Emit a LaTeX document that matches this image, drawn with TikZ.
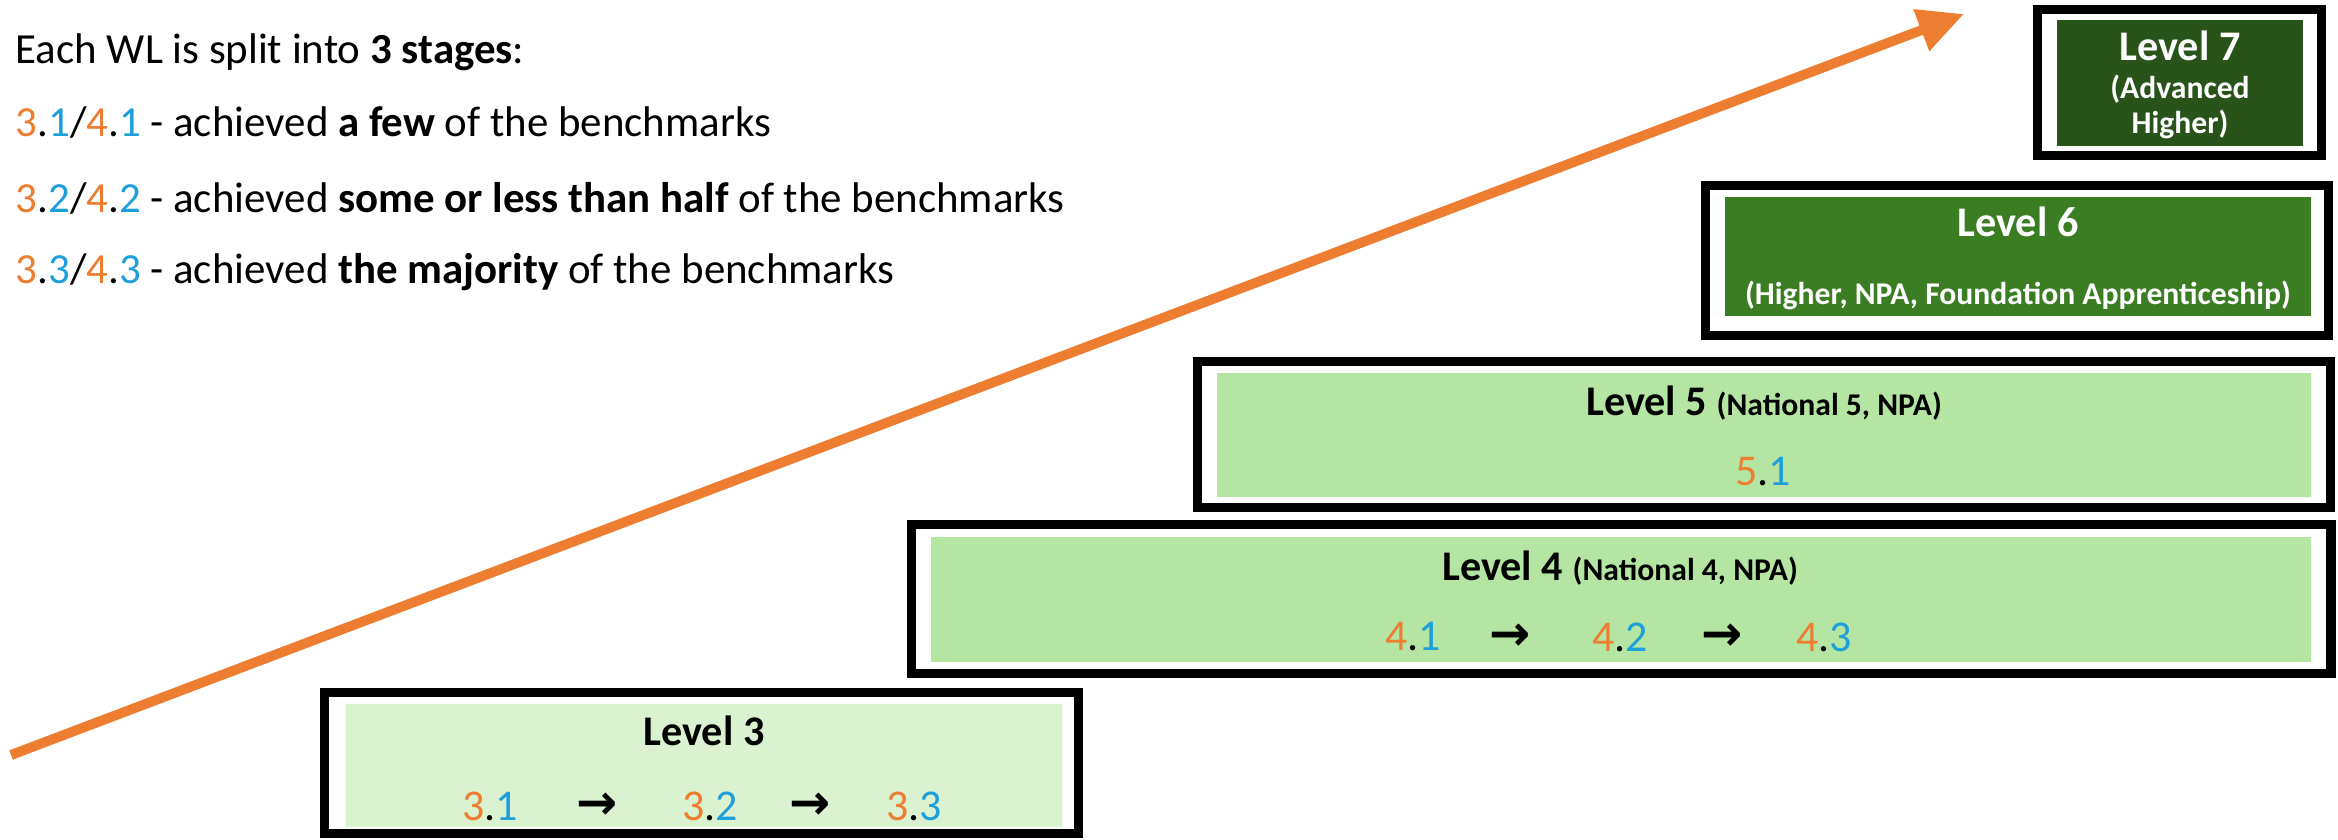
\documentclass[tikz,border=0pt]{standalone}
\usepackage{fontspec}
\setmainfont{Carlito}
\newfontfamily\arrowfont{DejaVu Sans}
\usepackage{tikz}
\usetikzlibrary{arrows.meta}

\definecolor{orng}{HTML}{ED7D31}
\definecolor{blu}{HTML}{1E9FDC}
\definecolor{palegreen}{HTML}{DAF2D0}
\definecolor{midgreen}{HTML}{B4E5A2}
\definecolor{darkgreen}{HTML}{3A7D22}
\definecolor{deepgreen}{HTML}{28541A}

\newcommand{\wlstage}[2]{\textcolor{orng}{#1}.\textcolor{blu}{#2}}
\newcommand{\nextstage}{{\arrowfont\bfseries\fontsize{14}{16}\selectfont →}}
\newcommand{\quals}[1]{{\fontsize{9}{11}\selectfont #1}}

\begin{document}
\begin{tikzpicture}[x=0.01cm, y=-0.01cm, every node/.style={inner sep=0pt},
    rise/.style={draw=orng, line width=2.8pt, -{Triangle[length=13pt,width=12pt]}}]
    \tikzstyle{frame}=[draw, line width=2.6pt, rectangle]
    \tikzstyle{panel}=[rectangle]
    \tikzstyle{head}=[font=\fontsize{12}{14}\selectfont\bfseries]
    \tikzstyle{sub}=[font=\fontsize{9}{10}\selectfont\bfseries, align=center]
    \tikzstyle{stage}=[font=\fontsize{12.5}{14}\selectfont]
    \tikzstyle{legend}=[anchor=west, font=\fontsize{12.2}{14}\selectfont]

    \useasboundingbox (0,0) rectangle (2338,840);

    % legend
    \node[legend] (intro) at (15,52) {Each WL is split into \textbf{3 stages}:};
    \node[legend] (few) at (15,123) {\wlstage{3}{1}/\wlstage{4}{1} - achieved \textbf{a few} of the benchmarks};
    \node[legend] (some) at (15,198) {\wlstage{3}{2}/\wlstage{4}{2} - achieved \textbf{some or less than half} of the benchmarks};
    \node[legend] (most) at (15,272) {\wlstage{3}{3}/\wlstage{4}{3} - achieved \textbf{the majority} of the benchmarks};

    % rising arrow
    \coordinate (risestart) at (11,755);
    \coordinate (risetip) at (1964,14);
    \draw[rise] (risestart) -- (risetip);

    % level 3
    \node[panel, fill=palegreen, minimum width=7.16cm, minimum height=1.23cm] (fill3) at (704,765.5) {};
    \node[frame, minimum width=7.54cm, minimum height=1.41cm] (frame3) at (701.5,763) {};
    \node[head] (head3) at (704,731) {Level 3};
    \node[stage] (s31) at (490,806) {\wlstage{3}{1}};
    \node[stage] (a31) at (597,806) {\nextstage};
    \node[stage] (s32) at (710,806) {\wlstage{3}{2}};
    \node[stage] (a32) at (810,806) {\nextstage};
    \node[stage] (s33) at (914,806) {\wlstage{3}{3}};

    % level 4
    \node[panel, fill=midgreen, minimum width=13.80cm, minimum height=1.25cm] (fill4) at (1621,599.5) {};
    \node[frame, minimum width=14.19cm, minimum height=1.49cm] (frame4) at (1621,599) {};
    \node[head] (head4) at (1620,568) {Level 4 \quals{(National 4, NPA)}};
    \node[stage] (s41) at (1413,637) {\wlstage{4}{1}};
    \node[stage] (a41) at (1510,637) {\nextstage};
    \node[stage] (s42) at (1620,637) {\wlstage{4}{2}};
    \node[stage] (a42) at (1722,637) {\nextstage};
    \node[stage] (s43) at (1824,637) {\wlstage{4}{3}};

    % level 5
    \node[panel, fill=midgreen, minimum width=10.94cm, minimum height=1.24cm] (fill5) at (1764,435) {};
    \node[frame, minimum width=11.33cm, minimum height=1.46cm] (frame5) at (1764,434.5) {};
    \node[head] (head5) at (1764,403) {Level 5 \quals{(National 5, NPA)}};
    \node[stage] (s51) at (1763,472) {\wlstage{5}{1}};

    % level 6
    \node[panel, fill=darkgreen, minimum width=5.86cm, minimum height=1.19cm] (fill6) at (2018,256.5) {};
    \node[frame, minimum width=6.23cm, minimum height=1.50cm] (frame6) at (2017,260.5) {};
    \node[head, text=white] (head6) at (2018,222) {Level 6};
    \node[sub, text=white] (sub6) at (2018,295) {(Higher, NPA, Foundation Apprenticeship)};

    % level 7
    \node[panel, fill=deepgreen, minimum width=2.46cm, minimum height=1.26cm] (fill7) at (2180,83) {};
    \node[frame, minimum width=2.84cm, minimum height=1.46cm] (frame7) at (2179.5,82.5) {};
    \node[head, text=white] (head7) at (2180,46) {Level 7};
    \node[sub, text=white] (sub7) at (2180,107) {(Advanced\\Higher)};
\end{tikzpicture}
\end{document}
